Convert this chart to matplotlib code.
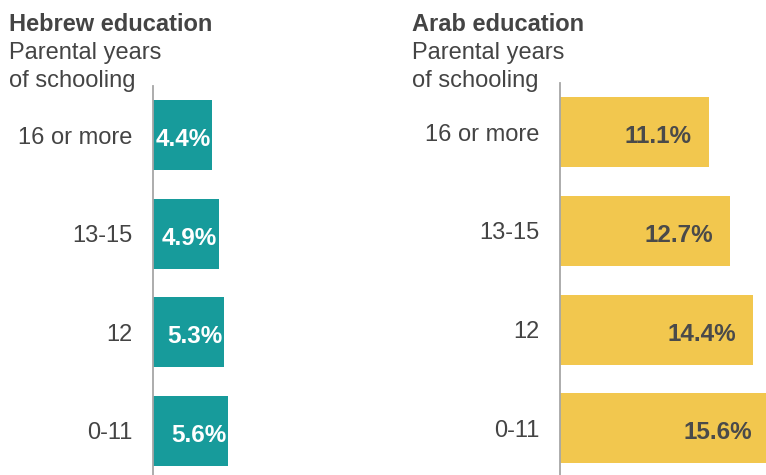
import matplotlib.pyplot as plt

plt.rcParams['font.family'] = ['Liberation Sans', 'DejaVu Sans']

categories = ['16 or more', '13-15', '12', '0-11']
hebrew = [4.4, 4.9, 5.3, 5.6]
arab = [11.1, 12.7, 14.4, 15.6]

teal = '#179b9b'
yellow = '#f2c74e'
textCol = '#444444'
W, H = 766, 475
pxPerUnit = 13.4

fig = plt.figure(figsize=(W / 100, H / 100), dpi=100)

def panel(x0, top, width, bottomPad, values, color, labelCol, labelOffset, title, titleX):
    ax = fig.add_axes([x0 / W, 0, width / W, (H - top) / H])
    ypos = range(len(values))
    ax.barh(ypos, values, height=0.71, color=color)
    ax.set_xlim(0, width / pxPerUnit)
    ax.set_ylim(len(values) - 1 + bottomPad, -0.5)
    ax.set_yticks(list(ypos))
    ax.set_yticklabels(categories, fontsize=17, color=textCol)
    ax.tick_params(axis='y', length=0, pad=15)
    ax.set_xticks([])
    for side in ['top', 'right', 'bottom']:
        ax.spines[side].set_visible(False)
    ax.spines['left'].set_color('#a6a6a6')
    ax.spines['left'].set_linewidth(1.3)
    for y, v in zip(ypos, values):
        ax.text(v - labelOffset, y + 0.02, '%.1f%%' % v, ha='right', va='center_baseline',
                fontsize=17.5, fontweight='bold', color=labelCol)
    fig.text(titleX / W, 1 - 13 / H, title, ha='left', va='top',
             fontsize=17, fontweight='bold', color=textCol)
    fig.text(titleX / W, 1 - 42 / H, 'Parental years\nof schooling', ha='left', va='top',
             fontsize=17, color=textCol, linespacing=1.36)
    return ax

panel(153, 86, 230, 0.45, hebrew, teal, 'white', 0.1, 'Hebrew education', 9)
panel(560, 83, 206, 0.475, arab, yellow, '#4a4a4a', 1.25, 'Arab education', 412)

fig.savefig('out.png', dpi=100)
